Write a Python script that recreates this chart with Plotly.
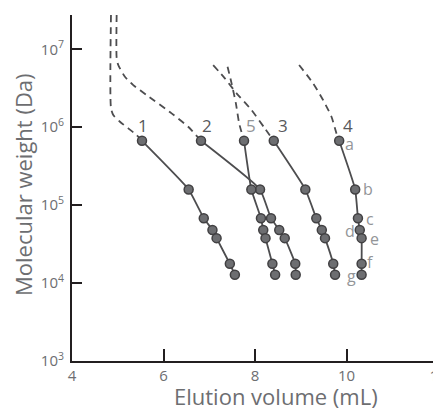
import math
import plotly.graph_objects as go

# ---- data ----
protein_letters = ["a", "b", "c", "d", "e", "f", "g"]
molecular_weight = [669000, 159000, 68000, 48000, 37700, 17700, 12800]

column_names = ["1", "2", "5", "3", "4"]
elution_1 = [5.53, 6.55, 6.88, 7.07, 7.16, 7.45, 7.56]
elution_2 = [6.82, 8.11, 8.35, 8.53, 8.65, 8.88, 8.89]
elution_5 = [7.76, 7.92, 8.13, 8.18, 8.23, 8.38, 8.44]
elution_3 = [8.41, 9.10, 9.34, 9.46, 9.53, 9.71, 9.75]
elution_4 = [9.84, 10.19, 10.25, 10.29, 10.33, 10.33, 10.33]

# extrapolated (dashed) parts, elution volume vs log10(MW)
dash_1_x = [4.852, 4.852, 4.902, 5.048, 5.230, 5.413, 5.53]
dash_1_logmw = [7.441, 6.246, 6.156, 6.070, 5.985, 5.899, 5.826]
dash_2_x = [4.976, 4.976, 5.011, 5.157, 5.339, 5.631, 6.177, 6.540, 6.82]
dash_2_logmw = [7.441, 6.888, 6.798, 6.648, 6.541, 6.413, 6.178, 6.006, 5.826]
dash_5_x = [7.400, 7.488, 7.582, 7.654, 7.76]
dash_5_logmw = [6.776, 6.563, 6.306, 6.049, 5.826]
dash_3_x = [7.086, 7.341, 7.597, 7.924, 8.215, 8.41]
dash_3_logmw = [6.798, 6.627, 6.435, 6.220, 5.985, 5.826]
dash_4_x = [8.964, 9.270, 9.488, 9.672, 9.781, 9.84]
dash_4_logmw = [6.798, 6.563, 6.349, 6.134, 5.921, 5.826]

x_ticks = [4, 6, 8, 10, 12]
y_ticks = [1e3, 1e4, 1e5, 1e6, 1e7]
y_tick_text = ["10<sup>3</sup>", "10<sup>4</sup>", "10<sup>5</sup>", "10<sup>6</sup>", "10<sup>7</sup>"]

# ---- styles ----
AXIS = "#231f20"
LINE = "#4d4d4f"
MARK = "#6d6e71"
GREY_TXT = "#6d6e71"
LIGHT_TXT = "#939598"
FONT = "Open Sans"

# the page body has an 8px margin, so the figure is offset by 8px
OFF = 8
L, R, T, B = 72 - OFF, 3, 15 - OFF, 47
W, H = 441 - OFF, 408 - OFF
pw, ph = W - L - R, H - T - B

elutions = [elution_1, elution_2, elution_5, elution_3, elution_4]
dashes = [(dash_1_x, dash_1_logmw), (dash_2_x, dash_2_logmw), (dash_5_x, dash_5_logmw),
          (dash_3_x, dash_3_logmw), (dash_4_x, dash_4_logmw)]
label_xshift = [1, 6, 7, 9, 9]
label_colors = ["#58595b", "#58595b", LIGHT_TXT, "#58595b", "#58595b"]

fig = go.Figure()

for (dx, dl) in dashes:
    fig.add_trace(go.Scatter(x=dx, y=[10 ** v for v in dl], mode="lines",
                             line=dict(color=LINE, width=1.8, dash="7px,5px", shape="spline", smoothing=0.6),
                             hoverinfo="skip", showlegend=False))

for ev in elutions:
    fig.add_trace(go.Scatter(x=ev, y=molecular_weight, mode="lines+markers",
                             line=dict(color=LINE, width=1.8, shape="spline", smoothing=0.4),
                             marker=dict(size=9, color=MARK, line=dict(color="#414042", width=1.5)),
                             showlegend=False))

annotations = []
for name, ev, xs, col in zip(column_names, elutions, label_xshift, label_colors):
    annotations.append(dict(x=ev[0], y=math.log10(molecular_weight[0]), xref="x", yref="y", text=name,
                            showarrow=False, font=dict(family=FONT, size=17, color=col),
                            xshift=xs, yshift=15, xanchor="center", yanchor="middle"))

letter_shift = [(10, -3), (13, 0), (12, -1), (-10, -1), (13, -1), (9, 2), (-10, -1)]
for letter, vol, mw, (sx, sy) in zip(protein_letters, elution_4, molecular_weight, letter_shift):
    annotations.append(dict(x=vol, y=math.log10(mw), xref="x", yref="y", text=letter, showarrow=False,
                            font=dict(family=FONT, size=16, color=LIGHT_TXT), xshift=sx, yshift=sy,
                            xanchor="center", yanchor="middle"))

# axis titles placed in (viewport) pixels, converted to paper coordinates
annotations.append(dict(x=(276 - OFF - L) / pw, y=((H - (396 - OFF)) - B) / ph, xref="paper", yref="paper",
                        text="Elution volume (mL)", showarrow=False, xanchor="center", yanchor="middle",
                        font=dict(family=FONT, size=22, color=GREY_TXT)))
annotations.append(dict(x=(23 - OFF - L) / pw, y=((H - (185 - OFF)) - B) / ph, xref="paper", yref="paper",
                        text="Molecular weight (Da)", showarrow=False, textangle=-90,
                        xanchor="center", yanchor="middle",
                        font=dict(family=FONT, size=22, color=GREY_TXT)))

fig.update_layout(
    width=W, height=H, margin=dict(l=L, r=R, t=T, b=B, autoexpand=False),
    paper_bgcolor="white", plot_bgcolor="white",
    font=dict(family=FONT, color=GREY_TXT),
    annotations=annotations,
    xaxis=dict(range=[4, 12], tickvals=x_ticks, ticks="inside", ticklen=12, tickwidth=2,
               tickcolor=AXIS, showline=True, linecolor=AXIS, linewidth=2, showgrid=False,
               zeroline=False, automargin=False, ticklabelstandoff=0, ticklabeloverflow="allow",
               tickfont=dict(family=FONT, size=15, color=GREY_TXT)),
    yaxis=dict(type="log", range=[3, 7.44], tickvals=y_ticks, ticktext=y_tick_text, ticks="inside",
               ticklen=10, tickwidth=2, tickcolor=AXIS, showline=True, linecolor=AXIS, linewidth=2,
               showgrid=False, zeroline=False, automargin=False, ticklabelstandoff=3,
               tickfont=dict(family=FONT, size=15, color=GREY_TXT)),
)

fig.write_html("out.html")
